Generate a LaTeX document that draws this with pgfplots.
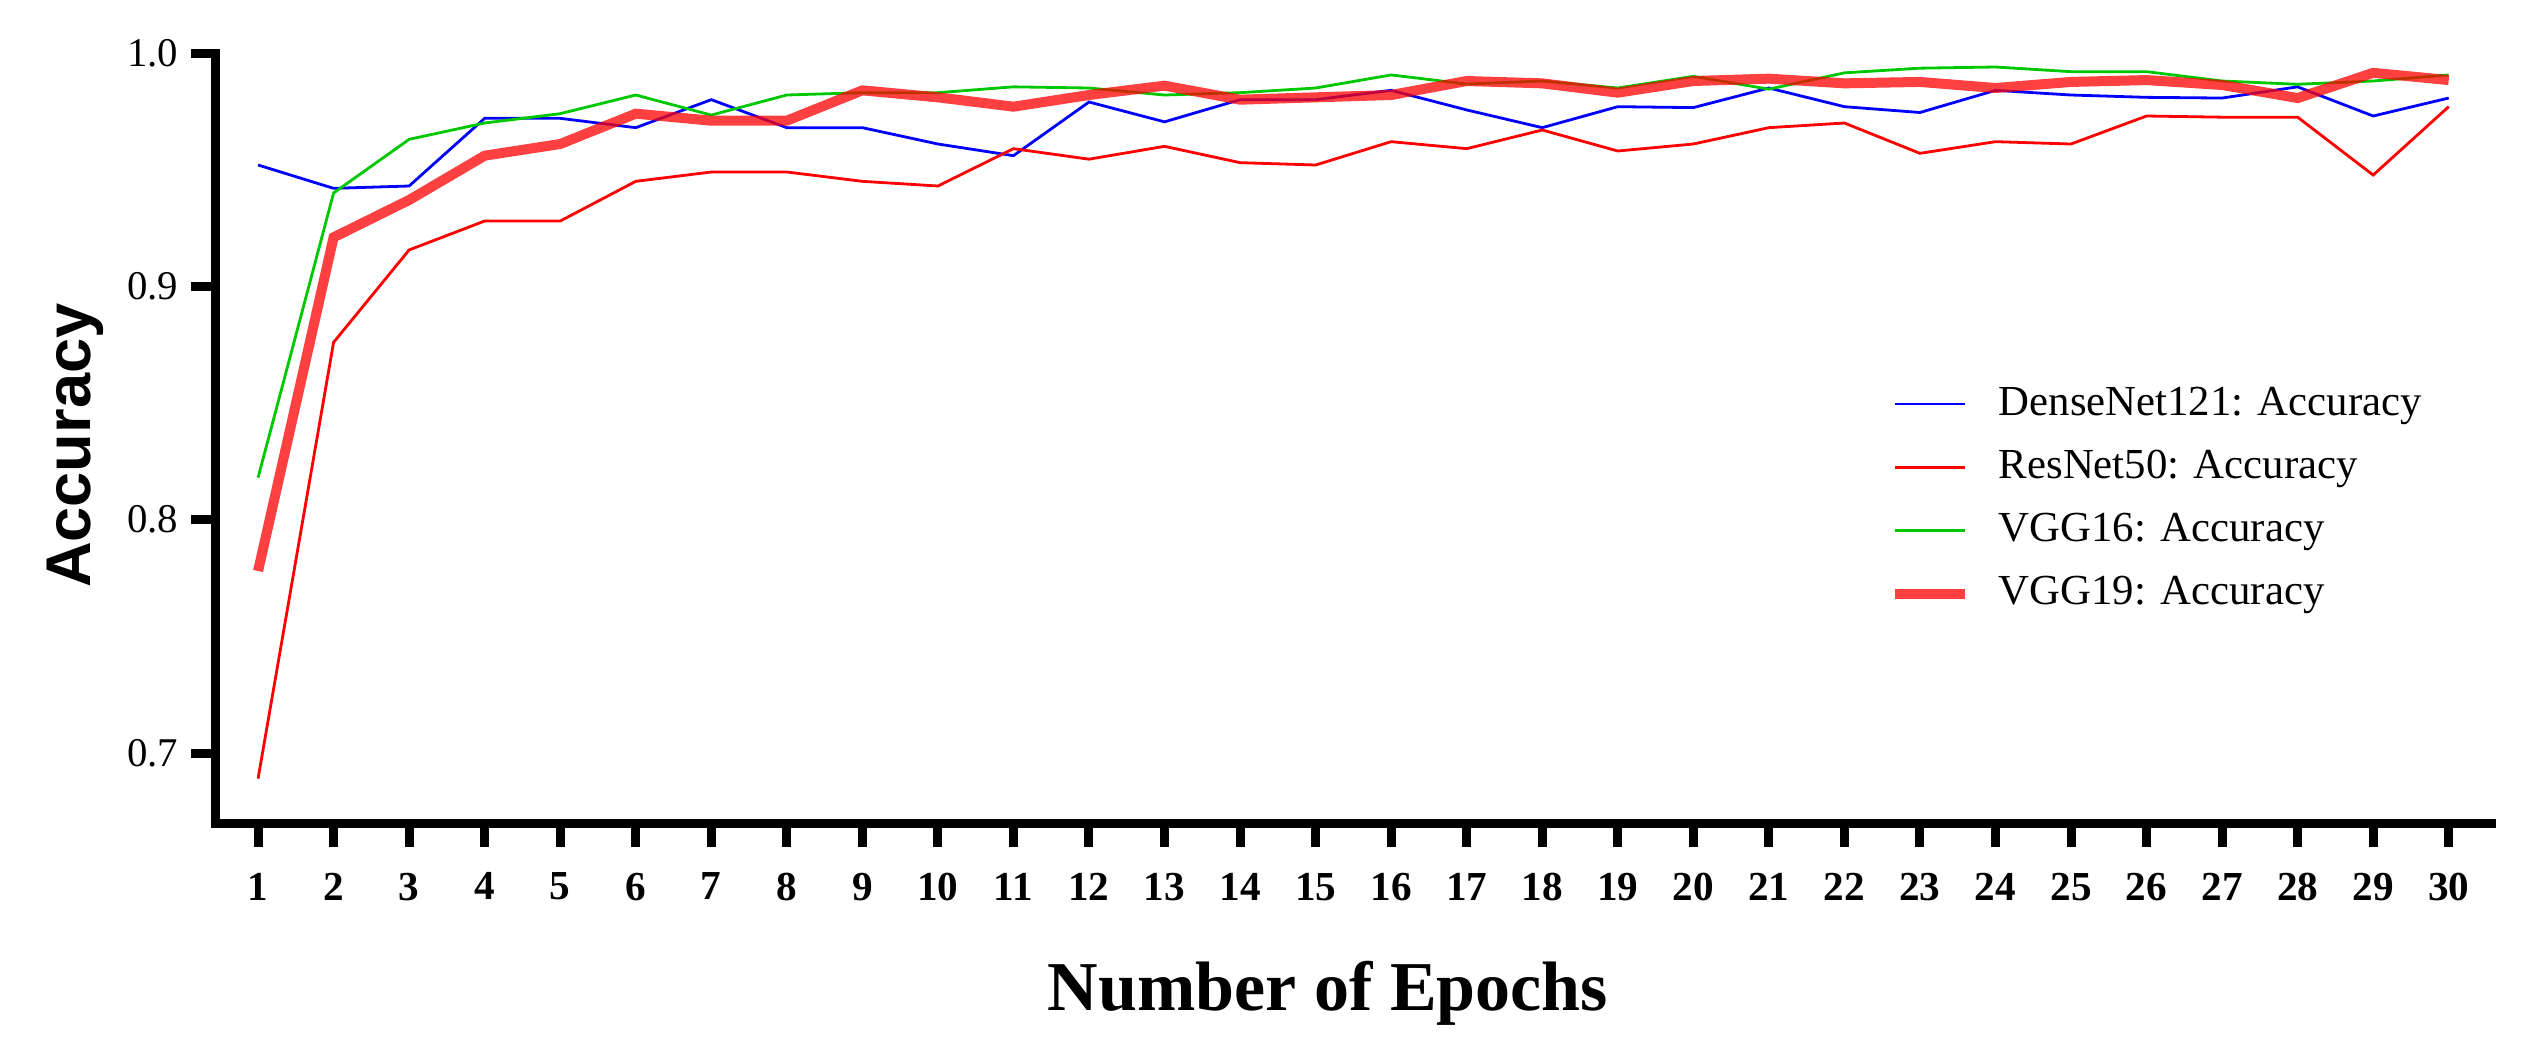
\documentclass[border=0pt]{standalone}
\usepackage{pgfplots}
\pgfplotsset{compat=1.18}
\usepackage{fontspec}
\setmainfont{Liberation Serif}
\newfontfamily\arialfont{Liberation Sans}
\definecolor{cBlue}{RGB}{0,0,255}
\definecolor{cRed}{RGB}{255,0,0}
\definecolor{cGreen}{RGB}{0,200,0}
\pgfplotstableread{
ep dense res vgg16 vgg19
1 0.952 0.689 0.818 0.778
2 0.942 0.876 0.940 0.921
3 0.943 0.9156 0.963 0.937
4 0.972 0.928 0.970 0.956
5 0.972 0.928 0.974 0.961
6 0.968 0.945 0.982 0.974
7 0.980 0.949 0.9734 0.971
8 0.968 0.949 0.982 0.971
9 0.968 0.945 0.983 0.984
10 0.961 0.943 0.983 0.981
11 0.956 0.959 0.9855 0.977
12 0.979 0.9545 0.985 0.982
13 0.9705 0.960 0.982 0.986
14 0.980 0.953 0.983 0.980
15 0.980 0.952 0.985 0.981
16 0.984 0.962 0.9906 0.982
17 0.9756 0.959 0.9867 0.988
18 0.968 0.967 0.988 0.987
19 0.977 0.958 0.985 0.983
20 0.9766 0.961 0.990 0.988
21 0.985 0.968 0.9845 0.989
22 0.977 0.970 0.9915 0.987
23 0.9745 0.957 0.9935 0.9876
24 0.984 0.962 0.994 0.985
25 0.982 0.961 0.992 0.9876
26 0.981 0.973 0.992 0.9884
27 0.9807 0.9725 0.988 0.9863
28 0.9855 0.9725 0.9866 0.9807
29 0.973 0.9477 0.988 0.9915
30 0.9807 0.977 0.9906 0.9884
}\acc
\begin{document}
\begin{tikzpicture}
\path[use as bounding box] (-53.75bp,-56.75bp) rectangle (578.5bp,205.75bp);
\begin{axis}[
  at={(0,0)}, anchor=south west,
  scale only axis, width=569bp, height=192.5bp,
  xmin=0.43, xmax=30.56, ymin=0.67, ymax=1.0,
  axis lines*=left,
  axis line style={line width=2.25bp, black, line cap=rect},
  xtick={1,...,30}, ytick={0.7,0.8,0.9,1.0},
  minor tick num=0,
  tick align=outside,
  major tick length=6bp,
  tick style={line width=2.25bp, black},
  /pgf/number format/assume math mode=true,
  yticklabel style={/pgf/number format/fixed, /pgf/number format/fixed zerofill, /pgf/number format/precision=1,
    font=\fontsize{10.2bp}{12bp}\selectfont, inner sep=0pt, anchor=east, xshift=-3bp},
  xticklabel style={font=\fontsize{10.3bp}{12bp}\selectfont\bfseries, inner sep=0pt, anchor=north, yshift=-6.25bp},
  xlabel={\bfseries Number of Epochs},
  xlabel style={font=\fontsize{17.5bp}{20bp}\selectfont, at={([yshift=-46.75bp]axis description cs:0.489,0)}, anchor=base},
  ylabel={\arialfont\bfseries Accuracy},
  ylabel style={font=\fontsize{15.8bp}{18bp}\selectfont, at={([xshift=-31bp]axis description cs:0,0.49)}, anchor=base},
  legend style={draw=none, fill=none, at={(0.7355,0.421)}, anchor=west, inner sep=0pt,
    font=\fontsize{10.7bp}{12bp}\selectfont, row sep=7.2bp,
    nodes={inner sep=0pt}},
  legend cell align=left,
  legend image code/.code={\draw[#1] (0bp,0bp) -- (17.5bp,0bp); \path[draw=none,fill=none] (0bp,0bp) rectangle (26bp,0bp);},
]
\addplot[cBlue, line width=0.7bp] table[x=ep, y=dense] {\acc};
\addlegendentry{DenseNet121: Accuracy}
\addplot[cRed, line width=0.7bp] table[x=ep, y=res] {\acc};
\addlegendentry{ResNet50: Accuracy}
\addplot[cGreen, line width=0.7bp] table[x=ep, y=vgg16] {\acc};
\addlegendentry{VGG16: Accuracy}
\addplot[cRed, line width=2.5bp, opacity=0.75] table[x=ep, y=vgg19] {\acc};
\addlegendentry{VGG19: Accuracy}
\end{axis}
\end{tikzpicture}
\end{document}
